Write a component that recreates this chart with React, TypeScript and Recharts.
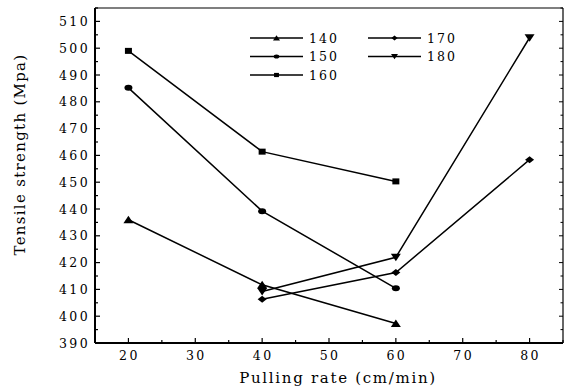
import React from 'react';
import { LineChart, Line, XAxis, YAxis, Label } from 'recharts';

const rates = [20, 40, 60, 80];
const s140 = [436, 411.7, 397.3, null];
const s150 = [485.2, 439.2, 410.4, null];
const s160 = [499, 461.4, 450.3, null];
const s170 = [null, 406.3, 416.3, 458.4];
const s180 = [null, 409.2, 422, 503.9];

const seriesNames = ['140', '150', '160', '170', '180'];
const seriesKinds = ['triUp', 'circle', 'square', 'diamond', 'triDown'];

const xTicks = [15, 20, 25, 30, 35, 40, 45, 50, 55, 60, 65, 70, 75, 80, 85];
const xMajor = [20, 30, 40, 50, 60, 70, 80];
const yTicks = [390, 395, 400, 405, 410, 415, 420, 425, 430, 435, 440, 445, 450, 455, 460, 465, 470, 475, 480, 485, 490, 495, 500, 505, 510, 515];
const yMajor = [390, 400, 410, 420, 430, 440, 450, 460, 470, 480, 490, 500, 510];

const xTitle = 'Pulling rate (cm/min)';
const yTitle = 'Tensile strength (Mpa)';

const seriesValues = [s140, s150, s160, s170, s180];
const data = rates.map((r, i) => {
  const row: any = { rate: r };
  seriesNames.forEach((n, k) => {
    row['s' + n] = seriesValues[k][i];
  });
  return row;
});

const FONT = "'DejaVu Serif', serif";

function Marker({ cx, cy, kind, scale = 1 }: any) {
  const s = scale;
  switch (kind) {
    case 'triUp':
      return <path d={`M${cx - 5 * s},${cy + 3.5 * s} L${cx + 5 * s},${cy + 3.5 * s} L${cx},${cy - 4 * s} Z`} fill="#000" />;
    case 'triDown':
      return <path d={`M${cx - 5 * s},${cy - 3.5 * s} L${cx + 5 * s},${cy - 3.5 * s} L${cx},${cy + 4 * s} Z`} fill="#000" />;
    case 'circle':
      return <ellipse cx={cx} cy={cy} rx={4 * s} ry={3 * s} fill="#000" />;
    case 'square':
      return <rect x={cx - 3.5 * s} y={cy - 3 * s} width={7 * s} height={6 * s} fill="#000" />;
    case 'diamond':
      return <path d={`M${cx - 4.5 * s},${cy} L${cx},${cy - 3.5 * s} L${cx + 4.5 * s},${cy} L${cx},${cy + 3.5 * s} Z`} fill="#000" />;
    default:
      return null;
  }
}

const makeDot = (kind: string) => (p: any) => {
  if (p.value == null || p.cx == null || p.cy == null) return <g key={p.index} />;
  return (
    <g key={p.index}>
      <Marker cx={p.cx} cy={p.cy} kind={kind} />
    </g>
  );
};

const BottomTick = (p: any) => {
  const v = p.payload.value;
  const axisY = p.y - 8;
  const major = xMajor.includes(v);
  return (
    <g>
      <line x1={p.x} x2={p.x} y1={axisY} y2={axisY - (major ? 5 : 3)} stroke="#000" strokeWidth={1.2} />
      {major && (
        <text x={p.x + 1} y={axisY + 16.5} textAnchor="middle" style={{ fontFamily: FONT }} fontSize={12.5} letterSpacing={2.4} fill="#000">
          {v}
        </text>
      )}
    </g>
  );
};

const LeftTick = (p: any) => {
  const v = p.payload.value;
  const axisX = p.x + 8;
  const major = yMajor.includes(v);
  return (
    <g>
      <line x1={axisX} x2={axisX + (major ? 5 : 3)} y1={p.y} y2={p.y} stroke="#000" strokeWidth={1.2} />
      {major && (
        <text x={axisX - 5} y={p.y + 4.5} textAnchor="end" style={{ fontFamily: FONT }} fontSize={12.5} letterSpacing={2.4} fill="#000">
          {v}
        </text>
      )}
    </g>
  );
};

const TopTick = (p: any) => {
  const v = p.payload.value;
  const major = xMajor.includes(v);
  return <line x1={p.x} x2={p.x} y1={p.y} y2={p.y + (major ? 4 : 2.5)} stroke="#000" strokeWidth={1} />;
};

const RightTick = (p: any) => {
  const v = p.payload.value;
  const major = yMajor.includes(v);
  return <line x1={p.x} x2={p.x - (major ? 4 : 2.5)} y1={p.y} y2={p.y} stroke="#000" strokeWidth={1} />;
};

const LegendOverlay = () => {
  const colX = [0, 118];
  const rowY = [10, 28.5, 47];
  return (
    <svg width={220} height={60} style={{ position: 'absolute', left: 248, top: 28, overflow: 'visible' }}>
      {seriesNames.map((n, i) => {
        const col = i < 3 ? 0 : 1;
        const row = i < 3 ? i : i - 3;
        const x0 = colX[col];
        const y0 = rowY[row];
        return (
          <g key={n}>
            <line x1={x0 + 2} x2={x0 + 55} y1={y0} y2={y0} stroke="#000" strokeWidth={1.5} />
            <Marker cx={x0 + 28.5} cy={y0} kind={seriesKinds[i]} scale={0.7} />
            <text x={x0 + 61} y={y0 + 4.5} style={{ fontFamily: FONT }} fontSize={12.5} letterSpacing={2} fill="#000">
              {n}
            </text>
          </g>
        );
      })}
    </svg>
  );
};

export default function App() {
  return (
    <div style={{ position: 'absolute', left: 0, top: 0, width: 564, height: 392, background: '#fff' }}>
      <LineChart width={564} height={392} data={data} margin={{ top: 7, right: 0, bottom: 0, left: 0 }}>
        <XAxis
          dataKey="rate"
          type="number"
          domain={[15, 85]}
          ticks={xTicks}
          interval={0}
          allowDataOverflow
          height={49}
          tickSize={0}
          tickMargin={8}
          tickLine={false}
          axisLine={{ stroke: '#000', strokeWidth: 2 }}
          tick={<BottomTick />}
        >
          <Label
            content={(props: any) => {
              const vb = props.viewBox;
              return (
                <text
                  x={vb.x + vb.width / 2 + 9}
                  y={vb.y + 40}
                  textAnchor="middle"
                  style={{ fontFamily: FONT }}
                  fontSize={15}
                  letterSpacing={1.7}
                  fill="#000"
                >
                  {xTitle}
                </text>
              );
            }}
          />
        </XAxis>
        <XAxis
          xAxisId="top"
          orientation="top"
          type="number"
          domain={[15, 85]}
          ticks={xTicks}
          interval={0}
          allowDataOverflow
          height={1}
          tickSize={0}
          tickMargin={0}
          tickLine={false}
          axisLine={{ stroke: '#000', strokeWidth: 1.2 }}
          tick={<TopTick />}
        />
        <YAxis
          type="number"
          domain={[390, 515]}
          ticks={yTicks}
          interval={0}
          allowDataOverflow
          width={95}
          tickSize={0}
          tickMargin={8}
          tickLine={false}
          axisLine={{ stroke: '#000', strokeWidth: 2 }}
          tick={<LeftTick />}
        >
          <Label
            content={(props: any) => {
              const vb = props.viewBox;
              return (
                <text
                  transform={`translate(${vb.x + 25},${vb.y + vb.height / 2 - 21}) rotate(-90)`}
                  textAnchor="middle"
                  style={{ fontFamily: FONT }}
                  fontSize={15}
                  letterSpacing={1.3}
                  fill="#000"
                >
                  {yTitle}
                </text>
              );
            }}
          />
        </YAxis>
        <YAxis
          yAxisId="right"
          orientation="right"
          type="number"
          domain={[390, 515]}
          ticks={yTicks}
          interval={0}
          allowDataOverflow
          width={1}
          tickSize={0}
          tickMargin={0}
          tickLine={false}
          axisLine={{ stroke: '#000', strokeWidth: 1.2 }}
          tick={<RightTick />}
        />
        {seriesNames.map((n, i) => (
          <Line
            key={n}
            dataKey={'s' + n}
            name={n}
            stroke="#000"
            strokeWidth={1.5}
            dot={makeDot(seriesKinds[i])}
            activeDot={false}
            isAnimationActive={false}
            connectNulls={false}
          />
        ))}
      </LineChart>
      <LegendOverlay />
    </div>
  );
}
